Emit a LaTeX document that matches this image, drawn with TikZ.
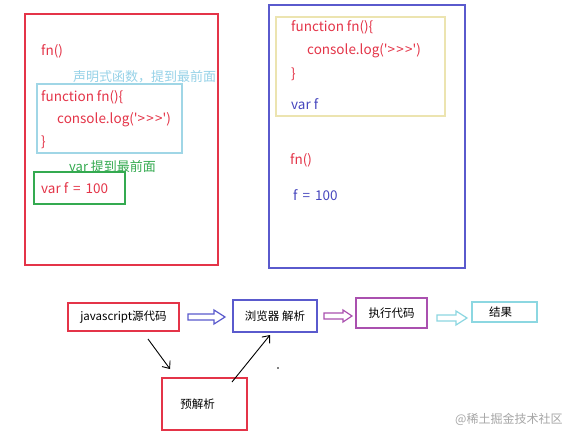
\documentclass[tikz,border=0pt]{standalone}
\usepackage{fontspec}
\setmainfont{Noto Sans CJK SC}[Ligatures=TeXOff]
\usetikzlibrary{arrows.meta}
\begin{document}
\begin{tikzpicture}[x=1pt,y=-1pt,
  txt/.style={anchor=west,inner sep=0pt,font=\fontsize{13.5}{15}\selectfont},
  lab/.style={anchor=west,inner sep=0pt,font=\fontsize{13}{15}\selectfont},
  flow/.style={line width=1.3pt,inner sep=0pt,font=\fontsize{11.5}{13}\selectfont},
  hollow/.style={line width=1.2pt,line join=miter},
  pen/.style={draw=black,line width=0.9pt,-{Straight Barb[length=6pt,width=10pt]}}]
\definecolor{cred}{RGB}{228,52,72}
\definecolor{ccyan}{RGB}{160,214,230}
\definecolor{clab}{RGB}{150,210,232}
\definecolor{cgreen}{RGB}{52,170,80}
\definecolor{cblue}{RGB}{90,90,205}
\definecolor{ctblue}{RGB}{70,70,190}
\definecolor{cyel}{RGB}{236,228,176}
\definecolor{cpurp}{RGB}{170,80,175}
\definecolor{carr}{RGB}{140,215,225}
\newcommand{\gts}{'>\kern1.2pt>\kern1.2pt>'}
\newcommand{\eqs}{\kern2pt=\kern2pt}
\useasboundingbox (0,0) rectangle (576,440);
\fill[white] (0,0) rectangle (576,440);
% left panel
\draw[cred,line width=1.4pt] (25,14) rectangle (218,265);
\node[txt,text=cred] (lfn) at (41,51) {fn()};
\node[lab,text=clab] (llab1) at (73,77) {声明式函数，提到最前面};
\draw[ccyan,line width=1.3pt] (37,84) rectangle (182,153);
\node[txt,text=cred] (lf1) at (41,97) {function fn()\{};
\node[txt,text=cred] (lf2) at (57,120) {console.log(\gts)};
\node[txt,text=cred] (lf3) at (41,142) {\}};
\node[lab,text=cgreen] (llab2) at (69,167) {var 提到最前面};
\draw[cgreen,line width=1.3pt] (34,172) rectangle (125,204);
\node[txt,text=cred] (lvar) at (41,188) {var f \eqs{} 100};
% right panel
\draw[cblue,line width=1.4pt] (269,5) rectangle (465,268);
\draw[cyel,line width=1.3pt] (276,17) rectangle (445,116);
\node[txt,text=cred] (rf1) at (291,27) {function fn()\{};
\node[txt,text=cred] (rf2) at (307,51) {console.log(\gts)};
\node[txt,text=cred] (rf3) at (291,74) {\}};
\node[txt,text=ctblue] (rvar) at (291,104) {var f};
\node[txt,text=cred] (rfn) at (290,160) {fn()};
\node[txt,text=ctblue] (rf) at (293,195) {f \eqs{} 100};
% flow
\node[flow,draw=cred,minimum width=111pt,minimum height=28pt] (js) at (123.5,317) {javascript源代码};
\node[flow,draw=cblue,minimum width=84pt,minimum height=32pt] (br) at (275,316) {浏览器 解析};
\node[flow,draw=cpurp,minimum width=71pt,minimum height=30pt] (ex) at (391.5,313) {执行代码};
\node[flow,draw=carr,minimum width=65pt,minimum height=20pt] (res) at (504.5,312) {\hspace*{-8pt}结果};
\node[flow,draw=cred,minimum width=85pt,minimum height=52pt] (pre) at (204.5,404) {\hspace*{-14pt}预解析};
% hollow arrows
\draw[cblue,hollow] (188,314) -- (214,314) -- (214,310) -- (225,317) -- (214,324) -- (214,320) -- (188,320) -- cycle;
\draw[cpurp,hollow] (324,313) -- (343,313) -- (343,310) -- (352,316) -- (343,322) -- (343,319) -- (324,319) -- cycle;
\draw[carr,hollow] (437,315) -- (456,315) -- (456,311) -- (467,318) -- (456,325) -- (456,321) -- (437,321) -- cycle;
% pen arrows
\coordinate (a1) at (148,339);
\coordinate (a2) at (170,369);
\draw[pen] (a1) -- (a2);
\coordinate (b1) at (232,382);
\coordinate (b2) at (270,335);
\draw[pen] (b1) -- (b2);
\coordinate (dot) at (278,368);
\fill (dot) circle (0.9pt);
% watermark
\node[anchor=west,inner sep=0pt,text=black!35,font=\fontsize{12}{14}\selectfont] (wm) at (455,419) {@稀土掘金技术社区};
\end{tikzpicture}
\end{document}
